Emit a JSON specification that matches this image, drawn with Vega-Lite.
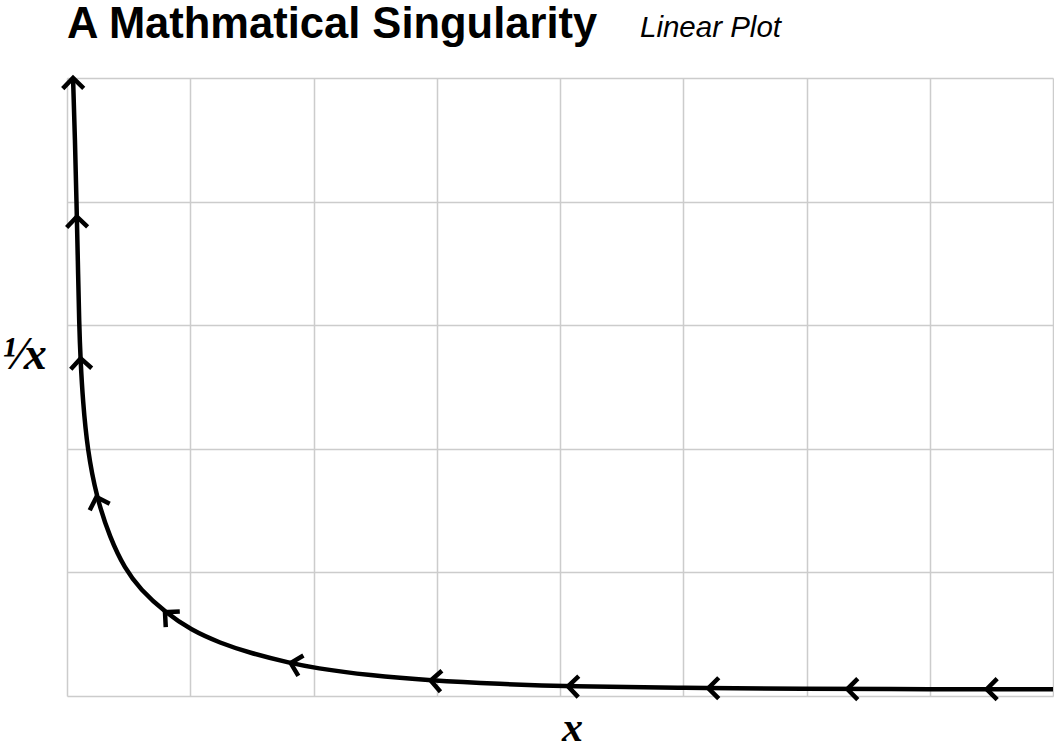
{
  "$schema": "https://vega.github.io/schema/vega-lite/v6.json",
  "width": 986,
  "height": 618,
  "autosize": {"type": "none"},
  "padding": {"left": 67, "top": 78, "right": 1, "bottom": 58},
  "background": "white",
  "title": {
    "text": "A Mathmatical Singularity",
    "anchor": "start",
    "frame": "group",
    "font": "Liberation Sans",
    "fontWeight": "bold",
    "fontSize": 43.5,
    "color": "black",
    "baseline": "alphabetic",
    "offset": -68
  },
  "config": {
    "view": {"stroke": null}
  },
  "datasets": {
    "curve": [
      {"x": 0.049, "y": 5.0},
      {"x": 0.065, "y": 4.498},
      {"x": 0.077, "y": 3.997},
      {"x": 0.088, "y": 3.528},
      {"x": 0.099, "y": 2.994},
      {"x": 0.11, "y": 2.718},
      {"x": 0.128, "y": 2.395},
      {"x": 0.166, "y": 1.99},
      {"x": 0.239, "y": 1.61},
      {"x": 0.349, "y": 1.278},
      {"x": 0.471, "y": 1.027},
      {"x": 0.592, "y": 0.866},
      {"x": 0.803, "y": 0.671},
      {"x": 1.006, "y": 0.534},
      {"x": 1.241, "y": 0.429},
      {"x": 1.485, "y": 0.348},
      {"x": 1.809, "y": 0.267},
      {"x": 2.004, "y": 0.227},
      {"x": 2.458, "y": 0.166},
      {"x": 2.945, "y": 0.125},
      {"x": 3.513, "y": 0.097},
      {"x": 4.065, "y": 0.078},
      {"x": 5.02, "y": 0.065},
      {"x": 5.947, "y": 0.058},
      {"x": 7.0, "y": 0.055},
      {"x": 8.0, "y": 0.054}
    ],
    "markers": [
      {"x": 0.049, "y": 5.0, "heading": 89},
      {"x": 0.08, "y": 3.878, "heading": 88.5},
      {"x": 0.111, "y": 2.732, "heading": 87},
      {"x": 0.239, "y": 1.61, "heading": 72},
      {"x": 0.795, "y": 0.678, "heading": 42},
      {"x": 1.815, "y": 0.266, "heading": 14},
      {"x": 2.951, "y": 0.125, "heading": 4},
      {"x": 4.065, "y": 0.078, "heading": 1.5},
      {"x": 5.203, "y": 0.063, "heading": 0},
      {"x": 6.331, "y": 0.056, "heading": 0},
      {"x": 7.462, "y": 0.055, "heading": 0}
    ]
  },
  "layer": [
    {
      "data": {"name": "curve"},
      "mark": {"type": "line", "color": "black", "strokeWidth": 4.5, "interpolate": "basis"},
      "encoding": {
        "x": {
          "field": "x",
          "type": "quantitative",
          "scale": {"domain": [0, 8], "nice": false, "zero": false},
          "axis": {
            "values": [0, 1, 2, 3, 4, 5, 6, 7, 8],
            "labels": false,
            "ticks": false,
            "domain": false,
            "grid": true,
            "gridColor": "#cccccc",
            "gridWidth": 1.5,
            "title": "x",
            "titleFont": "Liberation Serif",
            "titleFontStyle": "italic",
            "titleFontWeight": "bold",
            "titleFontSize": 42,
            "titleColor": "black",
            "titleBaseline": "alphabetic",
            "titlePadding": 44,
            "titleX": 505
          }
        },
        "y": {
          "field": "y",
          "type": "quantitative",
          "scale": {"domain": [0, 5], "nice": false, "zero": false},
          "axis": {
            "values": [0, 1, 2, 3, 4, 5],
            "labels": false,
            "ticks": false,
            "domain": false,
            "grid": true,
            "gridColor": "#cccccc",
            "gridWidth": 1.5,
            "title": "¹⁄x",
            "titleFont": "Liberation Serif",
            "titleFontStyle": "italic",
            "titleFontWeight": "bold",
            "titleFontSize": 46,
            "titleColor": "black",
            "titleAngle": 0,
            "titleAlign": "center",
            "titleBaseline": "middle",
            "titleX": -43,
            "titleY": 276
          }
        }
      }
    },
    {
      "data": {"name": "markers"},
      "mark": {
        "type": "point",
        "shape": "M 1 -1 L 0 0 L 1 1",
        "filled": false,
        "color": "black",
        "opacity": 1,
        "strokeWidth": 4.5,
        "strokeCap": "butt",
        "strokeJoin": "miter",
        "size": 440
      },
      "encoding": {
        "x": {"field": "x", "type": "quantitative"},
        "y": {"field": "y", "type": "quantitative"},
        "angle": {"field": "heading", "type": "quantitative", "scale": null}
      }
    },
    {
      "data": {"values": [{"label": "Linear Plot"}]},
      "mark": {
        "type": "text",
        "font": "Liberation Sans",
        "fontStyle": "italic",
        "fontSize": 29.5,
        "color": "black",
        "align": "left",
        "baseline": "alphabetic"
      },
      "encoding": {
        "text": {"field": "label"},
        "x": {"datum": 4.649},
        "y": {"datum": 5.33}
      }
    }
  ]
}
